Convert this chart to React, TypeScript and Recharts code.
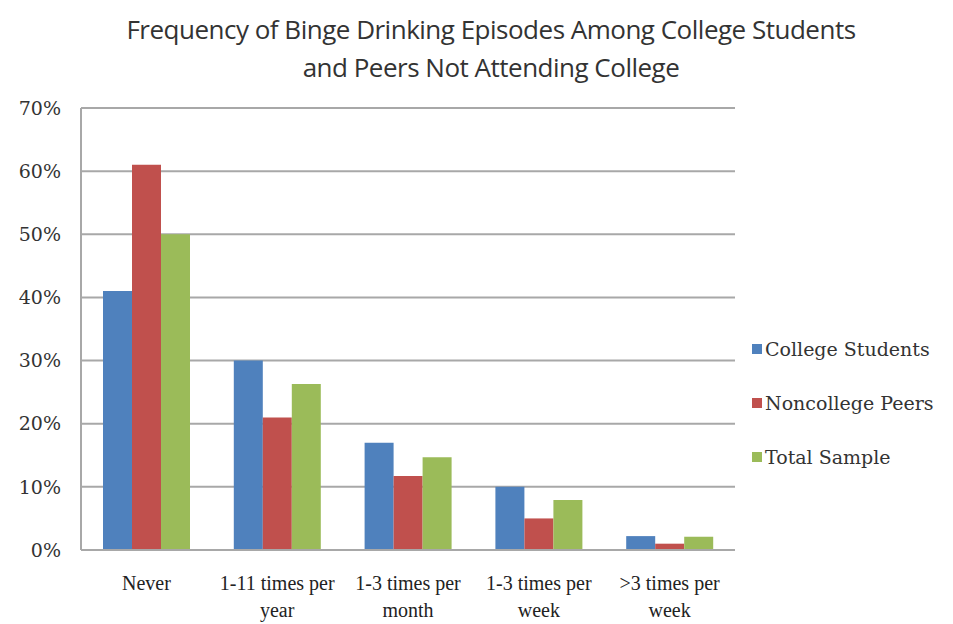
import React from 'react';
import { BarChart, Bar, XAxis, YAxis, CartesianGrid, Legend } from 'recharts';

const categories = [
	'Never',
	'1-11 times per year',
	'1-3 times per month',
	'1-3 times per week',
	'>3 times per week',
];
const collegeStudents = [41, 30, 17, 10, 2.2];
const noncollegePeers = [61, 21, 11.7, 5, 1];
const totalSample = [50, 26.3, 14.7, 7.9, 2.1];
const yTicks = [0, 10, 20, 30, 40, 50, 60, 70];

const data = categories.map((name, i) => ({
	name,
	college: collegeStudents[i],
	noncollege: noncollegePeers[i],
	total: totalSample[i],
}));

// two-line labels: last word goes on the second line
const XTick = (props: any) => {
	const { x, y, payload } = props;
	const value: string = payload.value;
	const cut = value.lastIndexOf(' ');
	const lines = cut > 0 ? [value.slice(0, cut), value.slice(cut + 1)] : [value];
	return (
		<text
			x={x}
			y={y}
			textAnchor='middle'
			fill='#222'
			style={{ fontFamily: 'Liberation Serif', fontSize: 20 }}
		>
			{lines.map((l, i) => (
				<tspan key={i} x={x} dy={i === 0 ? 32 : 27}>
					{l}
				</tspan>
			))}
		</text>
	);
};

const LegendBox = (props: any) => {
	const { payload } = props;
	return (
		<div>
			{(payload || []).map((p: any) => (
				<div
					key={p.value}
					style={{
						display: 'flex',
						alignItems: 'center',
						height: 54,
						fontFamily: 'DejaVu Serif',
						fontSize: 19,
						color: '#333',
						whiteSpace: 'nowrap',
					}}
				>
					<span
						style={{
							display: 'inline-block',
							width: 10,
							height: 10,
							background: p.color,
							marginRight: 3,
						}}
					/>
					{p.value}
				</div>
			))}
		</div>
	);
};

export default function App() {
	return (
		<div style={{ position: 'absolute', left: 0, top: 0, width: 953, height: 624, background: '#fff' }}>
			<div
				style={{
					position: 'absolute',
					left: 0,
					width: 982,
					top: 10,
					textAlign: 'center',
					fontFamily: 'Open Sans',
					fontSize: 26,
					lineHeight: '38px',
					color: '#333',
					letterSpacing: -0.5,
				}}
			>
				Frequency of Binge Drinking Episodes Among College Students
				<br />
				and Peers Not Attending College
			</div>
			<BarChart
				width={953}
				height={624}
				data={data}
				margin={{ top: 108, right: 218, bottom: 0, left: 0 }}
				barGap={0}
				barCategoryGap={22}
				style={{ position: 'absolute', left: 0, top: 0 }}
			>
				<CartesianGrid vertical={false} stroke='#a8a8a8' strokeWidth={2} />
				<XAxis
					dataKey='name'
					height={74}
					tickLine={false}
					axisLine={{ stroke: '#a8a8a8', strokeWidth: 2 }}
					tick={<XTick />}
					interval={0}
				/>
				<YAxis
					width={81}
					domain={[0, 70]}
					ticks={yTicks}
					tickFormatter={(v: number) => `${v}%`}
					tickLine={false}
					axisLine={{ stroke: '#a8a8a8', strokeWidth: 2 }}
					tickMargin={14}
					tick={{ fill: '#333', fontFamily: 'DejaVu Serif', fontSize: 19 }}
				/>
				<Legend
					layout='vertical'
					align='center'
					verticalAlign='middle'
					content={<LegendBox />}
					wrapperStyle={{ left: 752, top: 322, width: 200 }}
				/>
				<Bar dataKey='college' name='College Students' fill='#4F81BD' isAnimationActive={false} />
				<Bar dataKey='noncollege' name='Noncollege Peers' fill='#C0504D' isAnimationActive={false} />
				<Bar dataKey='total' name='Total Sample' fill='#9BBB59' isAnimationActive={false} />
			</BarChart>
		</div>
	);
}
